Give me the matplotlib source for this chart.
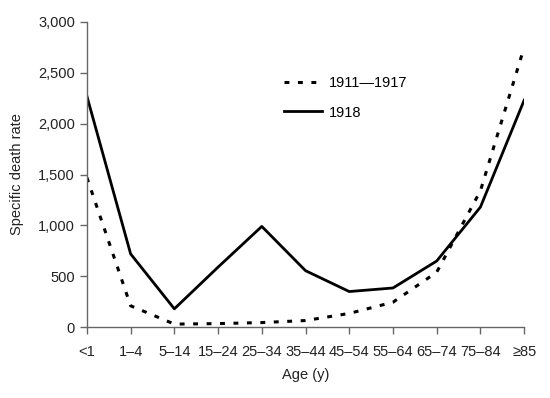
import numpy as np
import matplotlib.pyplot as plt

plt.rcParams['font.family'] = ['Liberation Sans', 'DejaVu Sans']

age_groups = ['<1', '1–4', '5–14', '15–24', '25–34', '35–44', '45–54',
              '55–64', '65–74', '75–84', '≥85']
rate_1911_1917 = [1470, 210, 30, 35, 45, 65, 135, 245, 540, 1340, 2750]
rate_1918 = [2270, 720, 180, 590, 990, 555, 350, 385, 650, 1180, 2230]

fig = plt.figure(figsize=(5.5, 3.98), dpi=100)
ax = fig.add_axes([0.158, 0.178, 0.795, 0.767])

x = np.arange(len(age_groups))
ax.plot(x, rate_1911_1917, color='black', lw=2.2, linestyle=(0, (1.6, 2.8)),
        label='1911—1917')
ax.plot(x, rate_1918, color='black', lw=2.0, label='1918')

ax.set_xlim(0, len(age_groups) - 1)
ax.set_ylim(0, 3000)
ax.set_xticks(x)
ax.set_xticklabels(age_groups)
ax.set_yticks(range(0, 3001, 500))
ax.set_yticklabels([f'{v:,}' for v in range(0, 3001, 500)])

for s in ['top', 'right']:
    ax.spines[s].set_visible(False)
for s in ['left', 'bottom']:
    ax.spines[s].set_color('#666666')
    ax.spines[s].set_linewidth(1.0)
ax.tick_params(colors='#666666', labelcolor='#222222', labelsize=10.5,
               length=5, width=1.0)
ax.tick_params(axis='x', pad=8)

ax.set_xlabel('Age (y)', fontsize=10.5, color='#222222', labelpad=6)
ax.set_ylabel('Specific death rate', fontsize=10.5, color='#222222', labelpad=10)

ax.legend(loc='upper left', bbox_to_anchor=(0.42, 0.865), frameon=False,
          fontsize=10.5, handlelength=2.6, handletextpad=0.5, labelspacing=1.05)

fig.savefig('out.png', dpi=100)
